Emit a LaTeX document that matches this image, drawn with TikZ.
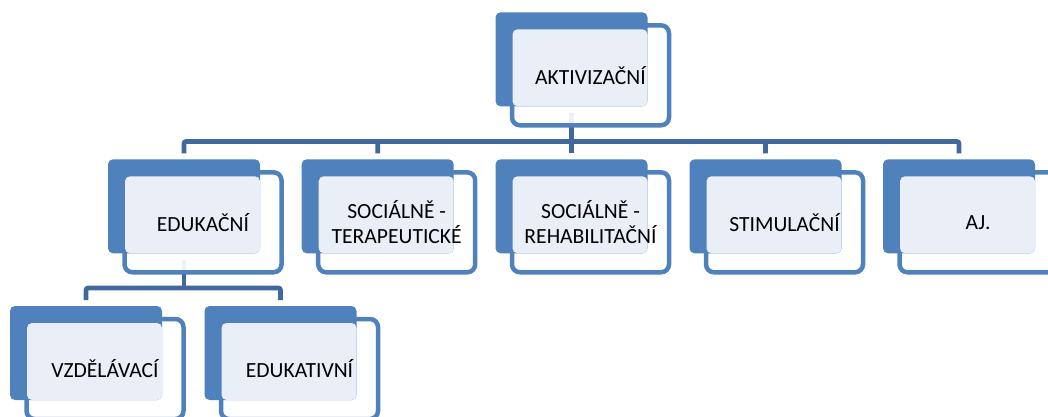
\documentclass[tikz,border=0pt]{standalone}
\usepackage{fontspec}
\setmainfont{Carlito}
\usetikzlibrary{backgrounds}
\definecolor{bfill}{HTML}{4F81BD}
\definecolor{lfill}{HTML}{EAEFF7}
\definecolor{cline}{HTML}{41689A}
\tikzset{
  outlbox/.style={draw=bfill, line width=4.5pt, fill=white, fill opacity=0.9, rounded corners=8pt,
    minimum width=157pt, minimum height=100pt, inner sep=0pt, outer sep=0pt},
  bluebox/.style={fill=bfill, rounded corners=5pt, minimum width=152pt, minimum height=94pt, inner sep=0pt, outer sep=0pt},
  lightbox/.style={fill=lfill, rounded corners=5pt, minimum width=135pt, minimum height=77pt, inner sep=0pt, outer sep=0pt},
  txtbox/.style={align=center, inner sep=0pt, font=\fontsize{21.6}{25}\selectfont, text=black},
  conn/.style={draw=cline, line width=4.6pt, rounded corners=2pt}
}
\newcommand\orgbox[4]{%
  \begin{scope}[shift={(#2,#3)}]
    \node[outlbox] (#1O) at (95,63) {};
    \node[bluebox] (#1B) at (76,47) {};
    \node[lightbox] (#1L) at (84.5,55.5) {};
    \node[txtbox] (#1) at (#1O.center) {#4};
  \end{scope}}
\begin{document}
\begin{tikzpicture}[x=1pt,y=-1pt]
\useasboundingbox (0,0) rectangle (1048,417);
\orgbox{a}{495.5}{12.3}{AKTIVIZAČNÍ}
\orgbox{e}{108}{159.3}{EDUKAČNÍ}
\orgbox{st}{301.7}{159.3}{SOCIÁLNĚ -\\TERAPEUTICKÉ}
\orgbox{sr}{495.5}{159.3}{SOCIÁLNĚ -\\REHABILITAČNÍ}
\orgbox{sm}{689.5}{159.3}{STIMULAČNÍ}
\orgbox{aj}{883}{159.3}{AJ.}
\orgbox{v}{10}{306}{VZDĚLÁVACÍ}
\orgbox{ek}{204.5}{306}{EDUKATIVNÍ}
\begin{pgfonlayer}{background}
  \coordinate (busA) at (571.5,141.5);
  \coordinate (busE) at (184,288);
  \draw[conn] ([yshift=-7pt]aB.south) -- (busA);
  \foreach \c in {eB,stB,srB,smB,ajB}
    \draw[conn] (busA) -| ([yshift=6pt]\c.north);
  \draw[conn] ([yshift=-7pt]eB.south) -- (busE);
  \foreach \c in {vB,ekB}
    \draw[conn] (busE) -| ([yshift=6pt]\c.north);
\end{pgfonlayer}
\end{tikzpicture}
\end{document}
